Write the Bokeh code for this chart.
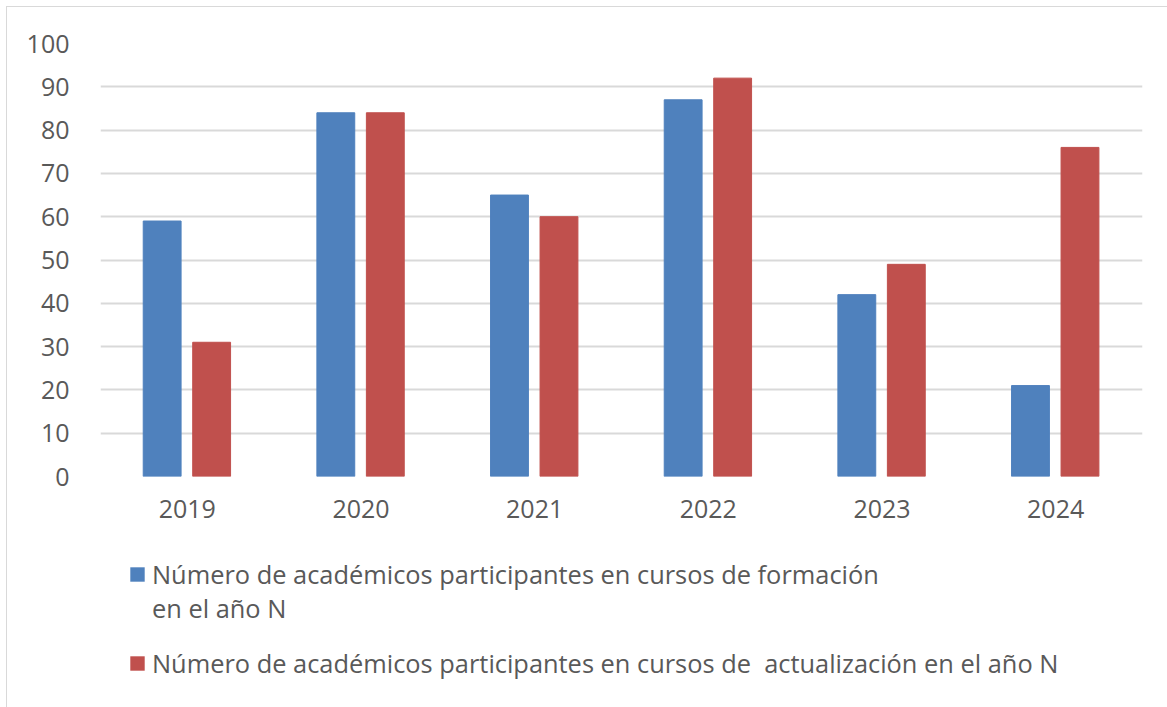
from bokeh.plotting import figure
from bokeh.layouts import column
from bokeh.models import FactorRange, Range1d, Legend, LegendItem, FixedTicker, ColumnDataSource
from bokeh.transform import dodge
from bokeh.embed import file_html
from bokeh.resources import INLINE

years = ["2019", "2020", "2021", "2022", "2023", "2024"]
formacion = [59, 84, 65, 87, 42, 21]
actualizacion = [31, 84, 60, 92, 49, 76]
y_ticks = [0, 10, 20, 30, 40, 50, 60, 70, 80, 90, 100]
label_formacion_1 = "Número de académicos participantes en cursos de formación"
label_formacion_2 = "en el año N"
label_actualizacion = "Número de académicos participantes en cursos de  actualización en el año N"

BLUE = "#4F81BD"
RED = "#C0504D"
TEXT = "#595959"
GRID = "#d9d9d9"
FONT = "Open Sans"
FS = "25px"

src = ColumnDataSource(dict(years=years, formacion=formacion, actualizacion=actualizacion))
xr = FactorRange(*years, range_padding=0)

# ---- main chart ----
p = figure(x_range=xr, y_range=Range1d(0, 100),
           width=1160, height=538, output_backend="svg", toolbar_location=None,
           min_border_left=93, min_border_top=36, min_border_right=25, min_border_bottom=69)
p.outline_line_color = None

p.vbar(x=dodge("years", -0.145, range=xr), top="formacion", width=0.218,
       source=src, fill_color=BLUE, line_color=BLUE)
p.vbar(x=dodge("years", 0.14, range=xr), top="actualizacion", width=0.218,
       source=src, fill_color=RED, line_color=RED)

p.yaxis.ticker = FixedTicker(ticks=y_ticks)
for ax in (p.xaxis[0], p.yaxis[0]):
    ax.axis_line_color = None
    ax.major_tick_line_color = None
    ax.minor_tick_line_color = None
    ax.major_label_text_font = FONT
    ax.major_label_text_font_size = FS
    ax.major_label_text_color = TEXT
p.yaxis.major_label_standoff = 25
p.xaxis.major_label_standoff = 17

p.xgrid.grid_line_color = None
p.ygrid.grid_line_color = GRID
p.ygrid.grid_line_width = 2

# ---- legend panel ----
lg = figure(x_range=xr, y_range=Range1d(1000, 1001), width=1160, height=162,
            output_backend="svg", toolbar_location=None,
            x_axis_location=None, y_axis_location=None,
            min_border_left=0, min_border_right=0, min_border_top=0, min_border_bottom=0)
lg.outline_line_color = None
lg.grid.grid_line_color = None
g1 = lg.vbar(x="years", top="formacion", width=0.22, source=src, fill_color=BLUE, line_color=None)
g0 = lg.vbar(x="years", top="formacion", width=0.22, source=src, fill_alpha=0, line_color=None)
g2 = lg.vbar(x="years", top="actualizacion", width=0.22, source=src, fill_color=RED, line_color=None)

common = dict(orientation="vertical", border_line_color=None, background_fill_alpha=0,
              glyph_width=18, glyph_height=18, label_standoff=6,
              label_text_font=FONT, label_text_font_size="25.4px",
              label_text_color=TEXT, label_height=33, label_text_line_height=1.3,
              padding=0, margin=0, spacing=0)
legA = Legend(items=[LegendItem(label=label_formacion_1, renderers=[g1]),
                     LegendItem(label=label_formacion_2, renderers=[g0])],
              location=(28, 82), **common)
legB = Legend(items=[LegendItem(label=label_actualizacion, renderers=[g2])],
              location=(28, 27), **common)
lg.add_layout(legA, "center")
lg.add_layout(legB, "center")

layout = column(p, lg, spacing=0,
                styles={"border-left": "1px solid #d9d9d9", "border-top": "1px solid #d9d9d9",
                        "margin-left": "6px", "margin-top": "6px"})

open("out.html", "w").write(file_html(layout, INLINE))
